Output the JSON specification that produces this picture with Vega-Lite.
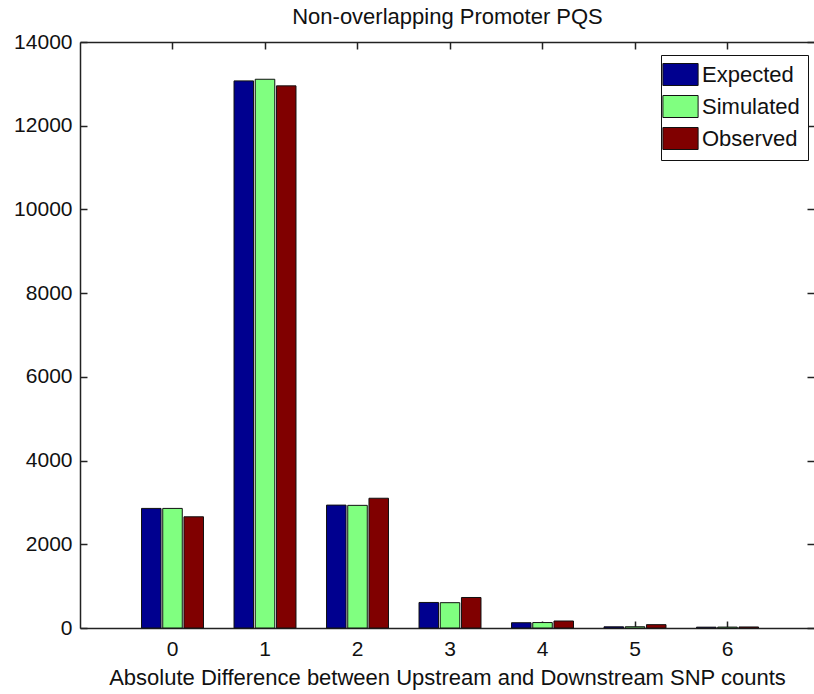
{
  "$schema": "https://vega.github.io/schema/vega-lite/v6.json",
  "width": 734,
  "height": 586,
  "autosize": {"type": "none"},
  "padding": {"left": 80, "top": 42, "right": 0, "bottom": 66},
  "background": "white",
  "config": {
    "view": {"stroke": null},
    "font": "Liberation Sans",
    "axis": {
      "domainColor": "#222222",
      "domainWidth": 1.5,
      "tickColor": "#222222",
      "tickWidth": 1.5,
      "labelColor": "#111111",
      "labelFont": "Liberation Sans",
      "labelFontSize": 21,
      "titleFont": "Liberation Sans",
      "titleFontSize": 22,
      "titleFontWeight": "normal",
      "titleColor": "#111111",
      "grid": false
    }
  },
  "data": {
    "values": [
      {"diff": "0", "series": "Expected", "count": 2857},
      {"diff": "0", "series": "Simulated", "count": 2857},
      {"diff": "0", "series": "Observed", "count": 2657},
      {"diff": "1", "series": "Expected", "count": 13071},
      {"diff": "1", "series": "Simulated", "count": 13110},
      {"diff": "1", "series": "Observed", "count": 12952},
      {"diff": "2", "series": "Expected", "count": 2936},
      {"diff": "2", "series": "Simulated", "count": 2930},
      {"diff": "2", "series": "Observed", "count": 3100},
      {"diff": "3", "series": "Expected", "count": 610},
      {"diff": "3", "series": "Simulated", "count": 605},
      {"diff": "3", "series": "Observed", "count": 729},
      {"diff": "4", "series": "Expected", "count": 126},
      {"diff": "4", "series": "Simulated", "count": 130},
      {"diff": "4", "series": "Observed", "count": 167},
      {"diff": "5", "series": "Expected", "count": 28},
      {"diff": "5", "series": "Simulated", "count": 30},
      {"diff": "5", "series": "Observed", "count": 80},
      {"diff": "6", "series": "Expected", "count": 20},
      {"diff": "6", "series": "Simulated", "count": 22},
      {"diff": "6", "series": "Observed", "count": 25}
    ]
  },
  "layer": [
    {
      "mark": {"type": "bar", "stroke": "#111111", "strokeWidth": 1},
      "encoding": {
        "x": {
          "field": "diff",
          "type": "ordinal",
          "sort": ["0", "1", "2", "3", "4", "5", "6"],
          "scale": {"paddingInner": 0.33, "paddingOuter": 0.6325, "align": 0.5257},
          "axis": {
            "orient": "bottom",
            "title": "Absolute Difference between Upstream and Downstream SNP counts",
            "labelAngle": 0,
            "tickSize": -7,
            "labelPadding": 17,
            "titleBaseline": "alphabetic",
            "titleY": 56
          }
        },
        "xOffset": {
          "field": "series",
          "type": "nominal",
          "sort": ["Expected", "Simulated", "Observed"],
          "scale": {"paddingInner": 0.08, "paddingOuter": 0}
        },
        "y": {
          "field": "count",
          "type": "quantitative",
          "scale": {"domain": [0, 14000], "nice": false},
          "axis": {
            "orient": "left",
            "title": null,
            "format": "d",
            "values": [0, 2000, 4000, 6000, 8000, 10000, 12000, 14000],
            "tickSize": -7,
            "labelPadding": 15
          }
        },
        "fill": {
          "field": "series",
          "type": "nominal",
          "sort": ["Expected", "Simulated", "Observed"],
          "scale": {"domain": ["Expected", "Simulated", "Observed"], "range": ["#00008F", "#80FF80", "#800000"]},
          "legend": {
            "orient": "none",
            "legendX": 581,
            "legendY": 13,
            "title": null,
            "symbolType": "M-1.6,-1L1.6,-1L1.6,1L-1.6,1Z",
            "symbolSize": 484,
            "symbolStrokeColor": "#111111",
            "symbolStrokeWidth": 1,
            "labelFont": "Liberation Sans",
            "labelFontSize": 22,
            "labelColor": "#111111",
            "labelOffset": 10,
            "rowPadding": 5,
            "padding": 8,
            "strokeColor": "#111111",
            "fillColor": "white"
          }
        }
      }
    },
    {
      "mark": {"type": "bar", "opacity": 0},
      "encoding": {
        "x": {
          "field": "diff",
          "type": "ordinal",
          "sort": ["0", "1", "2", "3", "4", "5", "6"],
          "axis": {
            "orient": "top",
            "title": "Non-overlapping Promoter PQS",
            "titleBaseline": "alphabetic",
            "titleY": -19,
            "labels": false,
            "tickSize": -7
          }
        },
        "xOffset": {
          "field": "series",
          "type": "nominal",
          "sort": ["Expected", "Simulated", "Observed"]
        },
        "y": {
          "field": "count",
          "type": "quantitative",
          "axis": {
            "orient": "right",
            "title": null,
            "labels": false,
            "domain": false,
            "values": [0, 2000, 4000, 6000, 8000, 10000, 12000, 14000],
            "tickSize": -7
          }
        }
      }
    }
  ],
  "resolve": {"axis": {"x": "independent", "y": "independent"}}
}
